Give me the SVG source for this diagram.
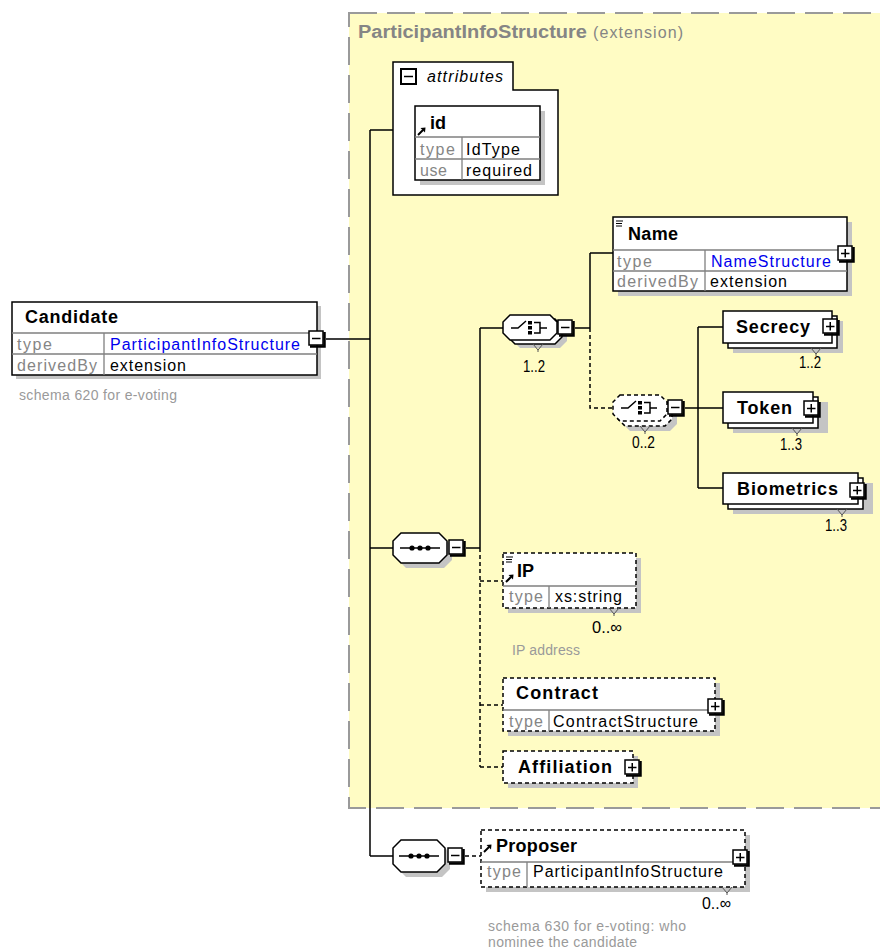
<svg xmlns="http://www.w3.org/2000/svg" xmlns:xlink="http://www.w3.org/1999/xlink" width="880" height="950" viewBox="0 0 880 950">
<style>
.box{fill:#fff;stroke:#000;stroke-width:1.5}
.dbox{fill:#fff;stroke:#000;stroke-width:1.5;stroke-dasharray:4 3}
.sh{fill:#c4c4c4;stroke:none}
.dv{stroke:#808080;stroke-width:1.3;fill:none}
.conn{stroke:#000;stroke-width:1.5;fill:none}
.dconn{stroke:#000;stroke-width:1.5;fill:none;stroke-dasharray:4 3}
text{font-family:"Liberation Sans",Arial,sans-serif;font-size:16px;fill:#000}
.b{font-weight:bold;font-size:18px}
.g{fill:#858585}
.lnk{fill:#0000ee}
.c{font-size:14px;fill:#9a9a9a}
.m{font-size:17px}
.ic{stroke:#000;stroke-width:1.5;fill:none}
</style>
<defs>
<symbol id="minus" viewBox="0 0 18 18" width="18" height="18">
<rect x="1" y="1" width="14" height="14" fill="#fff" stroke="#000" stroke-width="1.5"/>
<path d="M16.5,2 V16.5 H2" fill="none" stroke="#000" stroke-width="2.5"/>
<line x1="4" y1="8.5" x2="12.5" y2="8.5" stroke="#000" stroke-width="1.5"/>
</symbol>
<symbol id="plus" viewBox="0 0 18 18" width="18" height="18">
<rect x="1" y="1" width="14" height="14" fill="#fff" stroke="#000" stroke-width="1.5"/>
<path d="M16.5,2 V16.5 H2" fill="none" stroke="#000" stroke-width="2.5"/>
<line x1="4" y1="8.5" x2="12.5" y2="8.5" stroke="#000" stroke-width="1.5"/>
<line x1="8.25" y1="4" x2="8.25" y2="12.5" stroke="#000" stroke-width="1.5"/>
</symbol>
<symbol id="ref" viewBox="0 0 10 10" width="10" height="10">
<path d="M1,9 L6,4" stroke="#000" stroke-width="2"/>
<polygon points="3.5,2 8.5,1.5 8,6.5" fill="#000"/>
</symbol>
<symbol id="simple" viewBox="0 0 10 8" width="10" height="8">
<path d="M1,1 H8 M1,3.5 H7 M1,6 H7" stroke="#000" stroke-width="1.1"/>
</symbol>
<g id="choiceIcon">
<path d="M0,0 H7 L15,-7" class="ic"/>
<rect x="17" y="-7" width="4" height="3.5" fill="#000"/>
<rect x="17" y="-2" width="4" height="3.5" fill="#000"/>
<rect x="17" y="3" width="4" height="3.5" fill="#000"/>
<path d="M23,-5.5 H29 V5 H23 M29,0 H36" class="ic"/>
</g>
<g id="seqIcon">
<path d="M0,0 H40" class="ic"/>
<circle cx="12" cy="0" r="2.6" fill="#000"/>
<circle cx="20" cy="0" r="2.6" fill="#000"/>
<circle cx="28" cy="0" r="2.6" fill="#000"/>
</g>
<path id="occ" d="M-5,0 L0,6 L5,0 M0,6 V8" fill="none" stroke="#555" stroke-width="1"/>
</defs>

<rect x="0" y="0" width="880" height="950" fill="#fff"/>

<g id="extension">
<rect x="349" y="13" width="580" height="795" fill="#fffcc4" stroke="#9a9a9a" stroke-width="2" stroke-dasharray="28 10"/>
<text x="358" y="38" class="b g" font-size="17" textLength="229" lengthAdjust="spacingAndGlyphs">ParticipantInfoStructure</text>
<text x="593" y="38" class="g" textLength="90">(extension)</text>
</g>

<g id="connectors">
<path d="M326,339 H370 M370,130 V856 M370,130 H393 M370,548 H393 M466,548 H480 M480,328 V548 M480,328 H503 M575,328 H590 M590,253 V328 M590,253 H613 M685,408 H698 M698,327 V488 M698,327 H723 M698,408 H723 M698,488 H723 M370,856 H393" class="conn"/>
<path d="M480,548 V767 M480,581 H503 M480,705 H503 M480,767 H503 M590,328 V408 H613 M465,856 H481" class="dconn"/>
</g>

<g id="candidate">
<rect x="16" y="306" width="305" height="73" class="sh"/>
<rect x="12" y="302" width="305" height="73" class="box"/>
<path d="M12,333 H317 M12,354 H317 M104,333 V375" class="dv"/>
<text x="25" y="323" class="b" textLength="93">Candidate</text>
<text x="17" y="350" class="g" textLength="35">type</text>
<text x="110" y="350" class="lnk" textLength="190">ParticipantInfoStructure</text>
<text x="17" y="371" class="g" textLength="80">derivedBy</text>
<text x="110" y="371" textLength="76">extension</text>
<use href="#minus" x="308" y="330"/>
<text x="19" y="400" class="c" textLength="158">schema 620 for e-voting</text>
</g>

<g id="attributes">
<path d="M393,62 H513 V90 H558 V195 H393 Z" class="box"/>
<rect x="401" y="69" width="15" height="15" fill="#fff" stroke="#000" stroke-width="2"/>
<line x1="404" y1="76.5" x2="413" y2="76.5" stroke="#000" stroke-width="1.5"/>
<text x="427" y="82" font-style="italic" font-size="15" textLength="76">attributes</text>
</g>

<g id="id">
<rect x="420" y="111" width="125" height="74" class="sh"/>
<rect x="415" y="106" width="125" height="74" class="box"/>
<path d="M415,137 H540 M415,159 H540 M462,137 V180" class="dv"/>
<use href="#ref" x="417" y="126"/>
<text x="430" y="129" class="b" textLength="16">id</text>
<text x="420" y="155" class="g" textLength="35">type</text>
<text x="466" y="155" textLength="54">IdType</text>
<text x="420" y="176" class="g" textLength="27">use</text>
<text x="466" y="176" textLength="66">required</text>
</g>

<g id="sequence1">
<path d="M406,538 H444 L452,546 V560 L444,568 H406 L398,560 V546 Z" class="sh"/>
<path d="M401,533 H439 L447,541 V555 L439,563 H401 L393,555 V541 Z" class="box"/>
<use href="#seqIcon" x="400" y="548"/>
<use href="#minus" x="448" y="539"/>
</g>

<g id="choice1">
<path d="M520,323 H560 L567,330 V341 L560,348 H520 L513,341 V330 Z" class="sh"/>
<path d="M515,319 H555 L562,326 V337 L555,344 H515 L508,337 V326 Z" class="box"/>
<path d="M510,315 H550 L557,322 V333 L550,340 H510 L503,333 V322 Z" class="box"/>
<use href="#choiceIcon" x="511" y="328"/>
<use href="#minus" x="557" y="319"/>
<use href="#occ" x="538" y="344"/>
<text x="523" y="372" class="m" textLength="22" lengthAdjust="spacingAndGlyphs">1..2</text>
</g>

<g id="name">
<rect x="618" y="222" width="234" height="74" class="sh"/>
<rect x="613" y="217" width="234" height="74" class="box"/>
<path d="M613,250 H847 M613,271 H847 M705,250 V291" class="dv"/>
<use href="#simple" x="615" y="220"/>
<text x="628" y="240" class="b" textLength="50">Name</text>
<text x="617" y="267" class="g" textLength="35">type</text>
<text x="711" y="267" class="lnk" textLength="120">NameStructure</text>
<text x="617" y="287" class="g" textLength="81">derivedBy</text>
<text x="710" y="287" textLength="77">extension</text>
<use href="#plus" x="837" y="245"/>
</g>

<g id="choice2">
<path d="M630,405 H670 L677,412 V424 L670,431 H630 L623,424 V412 Z" class="sh"/>
<path d="M625,400 H665 L672,407 V419 L665,426 H625 L618,419 V407 Z" class="dbox"/>
<path d="M620,395 H660 L667,402 V414 L660,421 H620 L613,414 V402 Z" class="dbox"/>
<use href="#choiceIcon" x="621" y="408"/>
<use href="#minus" x="667" y="399"/>
<use href="#occ" x="645" y="426"/>
<text x="632" y="448" class="m" textLength="23" lengthAdjust="spacingAndGlyphs">0..2</text>
</g>

<g id="secrecy">
<rect x="733" y="321" width="110" height="32" class="sh"/>
<rect x="728" y="316" width="109" height="32" class="box"/>
<rect x="723" y="311" width="109" height="32" class="box"/>
<text x="736" y="333" class="b" textLength="74">Secrecy</text>
<use href="#plus" x="822" y="318"/>
<use href="#occ" x="816" y="348"/>
<text x="799" y="368" class="m" textLength="22" lengthAdjust="spacingAndGlyphs">1..2</text>
</g>

<g id="token">
<rect x="733" y="402" width="95" height="31" class="sh"/>
<rect x="728" y="397" width="90" height="31" class="box"/>
<rect x="723" y="392" width="90" height="31" class="box"/>
<text x="737" y="414" class="b" textLength="55">Token</text>
<use href="#plus" x="803" y="400"/>
<use href="#occ" x="797" y="428"/>
<text x="780" y="450" class="m" textLength="22" lengthAdjust="spacingAndGlyphs">1..3</text>
</g>

<g id="biometrics">
<rect x="733" y="483" width="140" height="31" class="sh"/>
<rect x="728" y="478" width="135" height="31" class="box"/>
<rect x="723" y="473" width="135" height="31" class="box"/>
<text x="737" y="495" class="b" textLength="101">Biometrics</text>
<use href="#plus" x="849" y="482"/>
<use href="#occ" x="842" y="509"/>
<text x="825" y="531" class="m" textLength="22" lengthAdjust="spacingAndGlyphs">1..3</text>
</g>

<g id="ip">
<rect x="508" y="558" width="133" height="55" class="sh"/>
<rect x="503" y="553" width="133" height="55" class="dbox"/>
<path d="M503,586 H636 M549,586 V608" class="dv"/>
<use href="#simple" x="505" y="556"/>
<use href="#ref" x="505" y="573"/>
<text x="517" y="577" class="b" textLength="17">IP</text>
<text x="509" y="602" class="g" textLength="34">type</text>
<text x="555" y="602" textLength="67">xs:string</text>
<use href="#occ" x="614" y="608"/>
<text x="592" y="633" class="m" textLength="30" lengthAdjust="spacingAndGlyphs">0..∞</text>
<text x="512" y="655" class="c" textLength="68">IP address</text>
</g>

<g id="contract">
<rect x="508" y="683" width="212" height="53" class="sh"/>
<rect x="503" y="678" width="212" height="53" class="dbox"/>
<path d="M503,710 H715 M549,710 V731" class="dv"/>
<text x="516" y="699" class="b" textLength="82">Contract</text>
<text x="509" y="727" class="g" textLength="34">type</text>
<text x="553" y="727" textLength="145">ContractStructure</text>
<use href="#plus" x="707" y="698"/>
</g>

<g id="affiliation">
<rect x="508" y="756" width="130" height="32" class="sh"/>
<rect x="503" y="751" width="130" height="32" class="dbox"/>
<text x="518" y="773" class="b" textLength="94">Affiliation</text>
<use href="#plus" x="624" y="759"/>
</g>

<g id="sequence2">
<path d="M406,845 H442 L450,853 V869 L442,877 H406 L398,869 V853 Z" class="sh"/>
<path d="M401,840 H437 L445,848 V864 L437,872 H401 L393,864 V848 Z" class="box"/>
<use href="#seqIcon" x="399" y="856"/>
<use href="#minus" x="447" y="847"/>
</g>

<g id="proposer">
<rect x="486" y="835" width="264" height="57" class="sh"/>
<rect x="481" y="830" width="264" height="57" class="dbox"/>
<path d="M481,862 H745 M527,862 V887" class="dv"/>
<use href="#ref" x="483" y="843"/>
<text x="496" y="852" class="b" textLength="81">Proposer</text>
<text x="487" y="877" class="g" textLength="34">type</text>
<text x="533" y="877" textLength="190">ParticipantInfoStructure</text>
<use href="#plus" x="732" y="849"/>
<use href="#occ" x="727" y="887"/>
<text x="702" y="909" class="m" textLength="29" lengthAdjust="spacingAndGlyphs">0..∞</text>
<text x="488" y="931" class="c" textLength="198">schema 630 for e-voting: who</text>
<text x="488" y="947" class="c" textLength="149">nominee the candidate</text>
</g>
</svg>
